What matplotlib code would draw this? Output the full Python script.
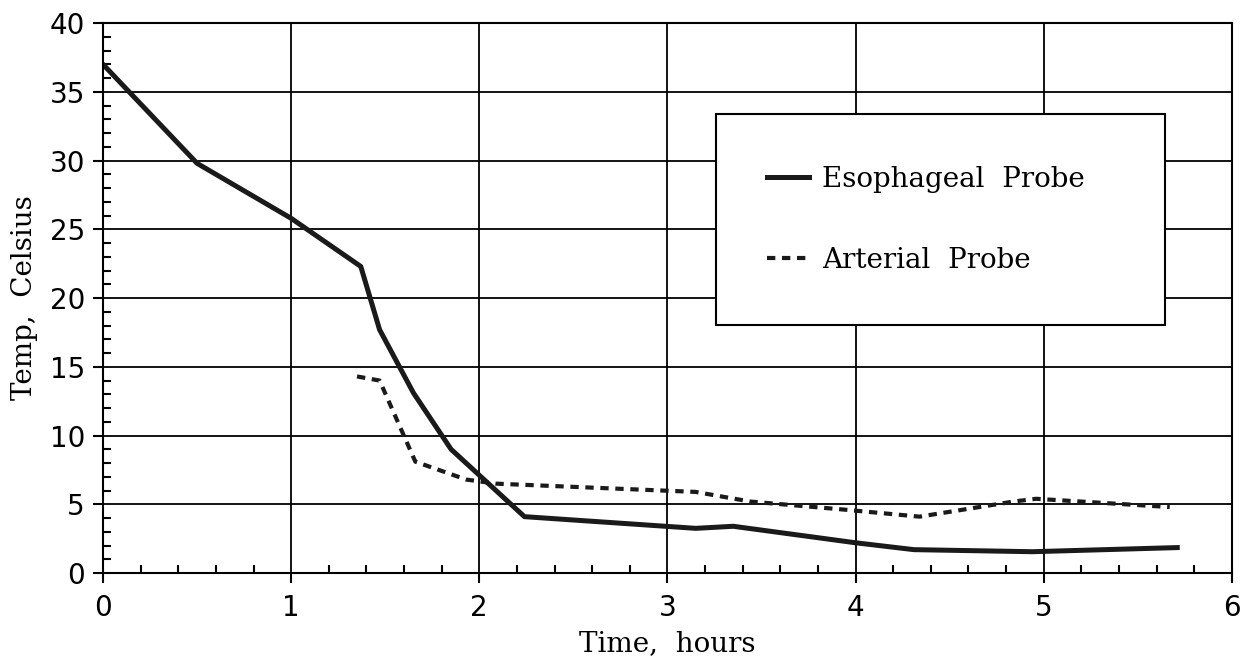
import numpy as np
import matplotlib
matplotlib.use("Agg")
import matplotlib.pyplot as plt
from matplotlib.ticker import MultipleLocator

# Esophageal probe readings
eso_t = [0.0, 0.5, 1.0, 1.37, 1.47, 1.65, 1.85, 2.24, 3.15, 3.35, 4.0, 4.31, 4.94, 5.71]
eso_temp = [37.0, 29.8, 25.8, 22.3, 17.7, 13.1, 9.0, 4.1, 3.25, 3.4, 2.2, 1.7, 1.55, 1.85]

# Arterial probe readings
art_t = [1.35, 1.47, 1.66, 1.93, 2.09, 3.15, 3.44, 3.95, 4.34, 4.84, 4.96, 5.67]
art_temp = [14.3, 14.0, 8.1, 6.8, 6.5, 5.9, 5.2, 4.6, 4.1, 5.2, 5.4, 4.8]

labels = ["Esophageal  Probe", "Arterial  Probe"]

fig = plt.figure(figsize=(12.43, 6.61), dpi=100)
ax = fig.add_axes([0.0829, 0.1331, 0.9081, 0.8319])

ax.plot(eso_t, eso_temp, "-", color="#1a1a1a", linewidth=3.6, label=labels[0],
        solid_joinstyle="round")
ax.plot(art_t, art_temp, "--", color="#1a1a1a", linewidth=3.0, dashes=(2, 1.6),
        label=labels[1])

ax.set_xlim(0, 6)
ax.set_ylim(0, 40)
ax.xaxis.set_major_locator(MultipleLocator(1))
ax.xaxis.set_minor_locator(MultipleLocator(0.2))
ax.yaxis.set_major_locator(MultipleLocator(5))
ax.yaxis.set_minor_locator(MultipleLocator(1))
ax.grid(True, which="major", color="black", linewidth=1.3)
ax.set_axisbelow(True)

ax.tick_params(which="major", direction="out", length=7, width=1.5,
               labelsize=20, pad=8, top=False, right=False)
ax.tick_params(axis="y", which="major", pad=6)
ax.tick_params(which="minor", direction="in", length=6, width=1.5,
               top=False, right=False)
for s in ax.spines.values():
    s.set_linewidth(1.5)

ax.set_xlabel("Time,  hours", family="DejaVu Serif", fontsize=20, labelpad=6)
ax.set_ylabel("Temp,  Celsius", family="DejaVu Serif", fontsize=20, labelpad=8)

leg = ax.legend(loc="upper left", bbox_to_anchor=(0.543, 0.8345, 0.398, 0.0),
                mode="expand", fancybox=False, framealpha=1, edgecolor="black",
                prop={"family": "DejaVu Serif", "size": 20}, handlelength=1.5,
                borderpad=1.85, labelspacing=1.95, handletextpad=0.47,
                borderaxespad=0)
leg.get_frame().set_linewidth(1.5)

plt.savefig("out.png", dpi=100)
